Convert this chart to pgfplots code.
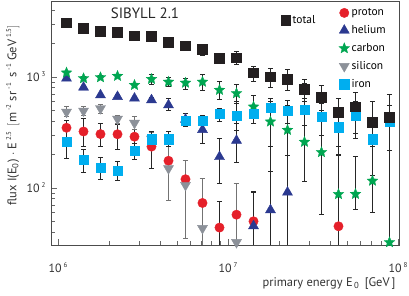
\documentclass[border=0pt]{standalone}
\usepackage{pgfplots}
\pgfplotsset{compat=1.18}
\usepackage{pgfplotstable}
\usepackage{fontspec}
\setmainfont{PT Sans}
\definecolor{cproton}{HTML}{E5202A}
\definecolor{chelium}{HTML}{2B3990}
\definecolor{ccarbon}{HTML}{00A651}
\definecolor{csilicon}{HTML}{8C9199}
\definecolor{ciron}{HTML}{00AEEF}
\definecolor{ctotal}{HTML}{231F20}

\pgfdeclareplotmark{fstar}{%
  \pgfpathmoveto{\pgfpointpolar{90}{\pgfplotmarksize}}%
  \pgfpathlineto{\pgfpointpolar{126}{0.45\pgfplotmarksize}}%
  \pgfpathlineto{\pgfpointpolar{162}{\pgfplotmarksize}}%
  \pgfpathlineto{\pgfpointpolar{198}{0.45\pgfplotmarksize}}%
  \pgfpathlineto{\pgfpointpolar{234}{\pgfplotmarksize}}%
  \pgfpathlineto{\pgfpointpolar{270}{0.45\pgfplotmarksize}}%
  \pgfpathlineto{\pgfpointpolar{306}{\pgfplotmarksize}}%
  \pgfpathlineto{\pgfpointpolar{342}{0.45\pgfplotmarksize}}%
  \pgfpathlineto{\pgfpointpolar{18}{\pgfplotmarksize}}%
  \pgfpathlineto{\pgfpointpolar{54}{0.45\pgfplotmarksize}}%
  \pgfpathclose
  \pgfusepathqfillstroke}

\pgfplotstableread{
x y lo hi
1.122e6 3085 2950 3230
1.413e6 2748 2620 2880
1.778e6 2594 2480 2720
2.239e6 2528 2410 2650
2.818e6 2355 2240 2470
3.548e6 2339 2220 2460
4.467e6 2054 1940 2170
5.623e6 1914 1800 2030
7.079e6 1769 1578 1983
8.913e6 1474 1329 1636
1.122e7 1493 1302 1690
1.413e7 1093 920 1256
1.778e7 1006 807 1198
2.239e7 953 764 1173
2.818e7 780 599 959
3.548e7 656 505 847
4.467e7 479 235 647
5.623e7 540 311 722
7.079e7 391 235 599
8.913e7 433 220 703
}\total

\pgfplotstableread{
x y lo hi
1.122e6 349 285 410
1.413e6 323 239 425
1.778e6 306 235 383
2.239e6 305 223 377
2.818e6 290 215 380
3.548e6 236 150 322
4.467e6 176 78 322
5.623e6 120 35.2 179
7.079e6 73.3 20 122
8.913e6 44 20 75.3
1.122e7 57.5 20 110
1.413e7 50.1 20 92.6
4.467e7 45.2 20 198
}\proton

\pgfplotstableread{
x y lo hi
1.122e6 973 940 1005
1.413e6 807 775 840
1.778e6 688 660 718
2.239e6 665 638 693
2.818e6 643 615 672
3.548e6 621 590 652
4.467e6 559 505 643
5.623e6 415 360 470
7.079e6 335 253 383
8.913e6 191 110 280
1.122e7 268 169 383
1.413e7 45.5 20 90.8
1.778e7 63.4 20 235
2.239e7 91.4 20 198
}\helium

\pgfplotstableread{
x y lo hi
1.122e6 1094 1060 1130
1.413e6 973 940 1005
1.778e6 993 960 1025
2.239e6 1021 985 1058
2.818e6 846 815 878
3.548e6 958 865 1064
4.467e6 904 830 993
5.623e6 886 774 972
7.079e6 904 764 1064
8.913e6 764 629 907
1.122e7 713 580 859
1.413e7 540 383 689
1.778e7 396 140 599
2.239e7 333 96 560
2.818e7 260 114 878
3.548e7 210 58 689
4.467e7 87.9 20 198
5.623e7 88.2 64.7 193
7.079e7 116 60 260
8.913e7 32.4 20 220
}\carbon

\pgfplotstableread{
x y lo hi
1.122e6 484 440 541
1.413e6 495 450 545
1.778e6 521 475 570
2.239e6 419 385 455
2.818e6 385 340 439
3.548e6 277 240 320
4.467e6 150 78 322
5.623e6 106 35.2 179
7.079e6 43.4 20 122
1.122e7 32.4 20 110
}\silicon

\pgfplotstableread{
x y lo hi
1.122e6 262 183 333
1.413e6 179 137 223
1.778e6 153 120 188
2.239e6 143 116 173
2.818e6 217 182 253
3.548e6 275 235 322
4.467e6 275 235 322
5.623e6 404 360 439
7.079e6 404 368 455
8.913e6 465 396 522
1.122e7 446 333 599
1.413e7 465 383 560
1.778e7 530 410 640
2.239e7 498 380 620
2.818e7 505 370 640
3.548e7 440 300 580
4.467e7 353 200 500
5.623e7 446 280 600
7.079e7 275 130 420
8.913e7 396 220 560
}\iron

\newcommand{\supx}[1]{\,\raisebox{0.85ex}{\fontsize{7}{7}\selectfont #1}}

\pgfplotsset{
  errb/.style={/pgfplots/error bars/y dir=both, /pgfplots/error bars/y explicit,
    /pgfplots/error bars/error bar style={line width=0.8bp, #1},
    /pgfplots/error bars/error mark options={rotate=90, mark size=2.5bp, line width=0.8bp, #1}},
  errb/.default={black!85},
}

\begin{document}
\begin{tikzpicture}
\begin{axis}[
  scale only axis, width=348bp, height=244bp,
  xmode=log, ymode=log,
  xmin=9.096e5, xmax=1.014e8, ymin=30.65, ymax=4842,
  xtick={1e6,1e7,1e8},
  xticklabels={10\supx{6},10\supx{7},10\supx{8}},
  minor xtick={2e6,3e6,4e6,5e6,6e6,7e6,8e6,9e6,2e7,3e7,4e7,5e7,6e7,7e7,8e7,9e7},
  ytick={1e2,1e3},
  yticklabels={10\supx{2},10\supx{3}},
  minor ytick={40,50,60,70,80,90,200,300,400,500,600,700,800,900,2000,3000,4000},
  tick align=inside, tick pos=left,
  major tick length=6bp, minor tick length=4bp,
  every tick/.style={black!60, line width=0.6bp},
  axis line style={black!70, line width=0.7bp},
  ticklabel style={font=\fontsize{12}{12}\selectfont, text=black!80},
  xticklabel style={yshift=-14bp},
  yticklabel style={xshift=-2bp},
  xlabel={primary energy E\textsubscript{\,0} \,[GeV\,]},
  xlabel style={font=\fontsize{12.5}{13}\selectfont, text=black!80, at={(axis description cs:1,0)}, anchor=north east, yshift=-29bp},
  ylabel={flux I(E\textsubscript{0}) $\cdot$ E\supx{2.5} \,$\big[$m\supx{-2} sr\supx{-1} \,s\supx{-1} GeV\supx{1.5}$\big]$},
  ylabel style={font=\fontsize{12.5}{13}\selectfont, text=black!80, at={(axis description cs:-0.11,0.531)}, anchor=center},
  legend style={at={(axis description cs:0.824,0.982)}, anchor=north west, draw=none, fill=none,
    font=\fontsize{11.5}{12}\selectfont, row sep=4.4bp, inner sep=1pt},
  legend cell align=left,
  clip=true,
]
\addplot[only marks, mark=*, mark size=4.7bp, color=cproton, errb] table[x=x, y=y, y error plus expr=\thisrow{hi}-\thisrow{y}, y error minus expr=\thisrow{y}-\thisrow{lo}] {\proton};
\addlegendentry{proton}
\addplot[only marks, mark=triangle*, mark size=5.8bp, color=chelium, errb] table[x=x, y=y, y error plus expr=\thisrow{hi}-\thisrow{y}, y error minus expr=\thisrow{y}-\thisrow{lo}] {\helium};
\addlegendentry{helium}
\addplot[only marks, mark=fstar, mark size=5.6bp, color=ccarbon, mark options={fill=ccarbon, draw=ccarbon, line width=0.3bp}, errb] table[x=x, y=y, y error plus expr=\thisrow{hi}-\thisrow{y}, y error minus expr=\thisrow{y}-\thisrow{lo}] {\carbon};
\addlegendentry{carbon}
\addplot[only marks, mark=triangle*, mark size=5.8bp, mark options={rotate=180}, color=csilicon, errb={black!55}] table[x=x, y=y, y error plus expr=\thisrow{hi}-\thisrow{y}, y error minus expr=\thisrow{y}-\thisrow{lo}] {\silicon};
\addlegendentry{silicon}
\addplot[only marks, mark=square*, mark size=4.6bp, color=ciron, errb] table[x=x, y=y, y error plus expr=\thisrow{hi}-\thisrow{y}, y error minus expr=\thisrow{y}-\thisrow{lo}] {\iron};
\addlegendentry{iron}
\addplot[only marks, mark=square*, mark size=4.9bp, color=ctotal, errb, forget plot] table[x=x, y=y, y error plus expr=\thisrow{hi}-\thisrow{y}, y error minus expr=\thisrow{y}-\thisrow{lo}] {\total};
\node[font=\fontsize{15}{15}\selectfont, text=black!85] at (rel axis cs:0.27,0.951) {SIBYLL 2.1};
\end{axis}
\begin{axis}[
  scale only axis, width=348bp, height=244bp, hide axis,
  xmin=0, xmax=1, ymin=0, ymax=1,
  legend style={at={(axis description cs:0.657,0.922)}, anchor=west, draw=none, fill=none,
    font=\fontsize{11.5}{12}\selectfont, inner sep=1pt},
]
\addlegendimage{only marks, mark=square*, mark size=4.9bp, color=ctotal}
\addlegendentry{total}
\end{axis}
\pgfresetboundingbox
\path (current axis.south west) ++(-51bp,-51bp) rectangle ([xshift=10bp,yshift=1bp]current axis.north east);
\end{tikzpicture}
\end{document}
